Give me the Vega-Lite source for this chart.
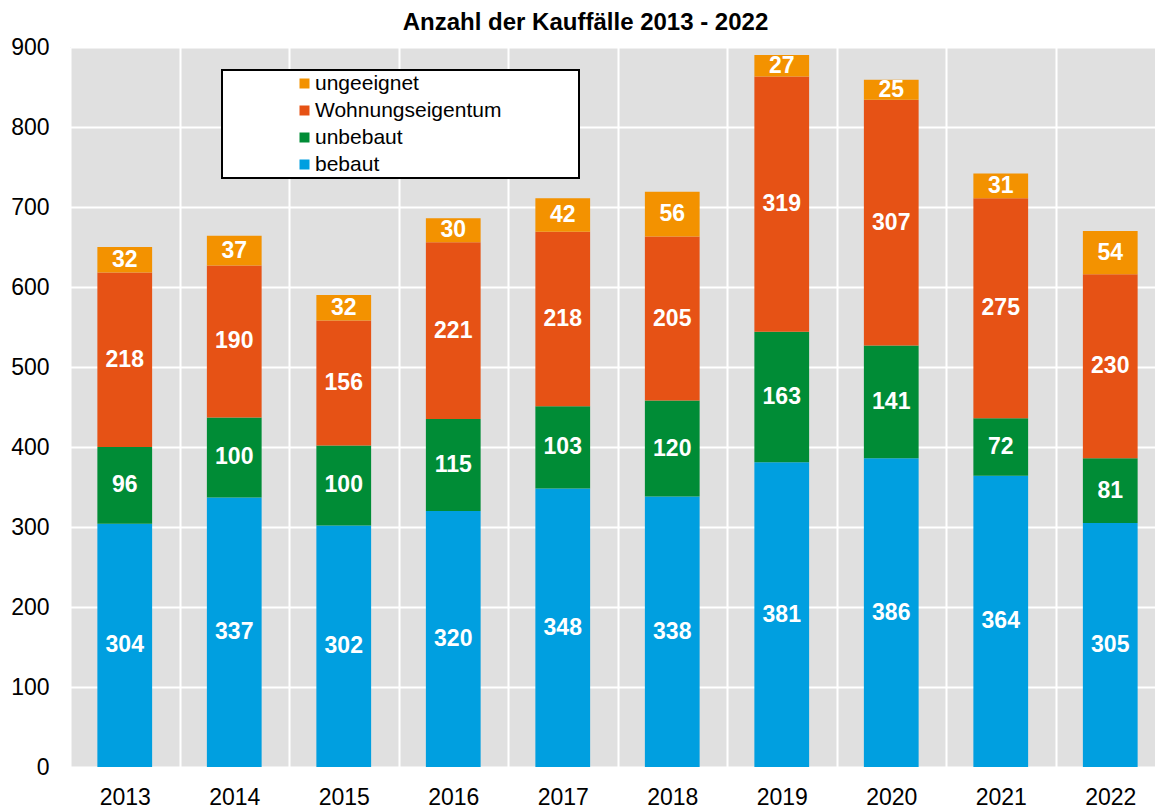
{
  "$schema": "https://vega.github.io/schema/vega-lite/v6.json",
  "width": 1095,
  "height": 720,
  "padding": {"left": 10, "top": 11, "right": 0, "bottom": 0},
  "background": "white",
  "title": {
    "text": "Anzahl der Kauffälle 2013 - 2022",
    "font": "Liberation Sans",
    "fontSize": 24,
    "fontWeight": "bold",
    "color": "black",
    "frame": "group",
    "anchor": "middle",
    "dx": -32,
    "offset": 1
  },
  "config": {
    "view": {"fill": "#e0e0e0", "stroke": null},
    "font": "Liberation Sans",
    "legend": {"strokeWidth": 2}
  },
  "data": {
    "values": [
      {"year": "2013", "cat": "bebaut", "rank": 1, "value": 304},
      {"year": "2013", "cat": "unbebaut", "rank": 2, "value": 96},
      {"year": "2013", "cat": "Wohnungseigentum", "rank": 3, "value": 218},
      {"year": "2013", "cat": "ungeeignet", "rank": 4, "value": 32},
      {"year": "2014", "cat": "bebaut", "rank": 1, "value": 337},
      {"year": "2014", "cat": "unbebaut", "rank": 2, "value": 100},
      {"year": "2014", "cat": "Wohnungseigentum", "rank": 3, "value": 190},
      {"year": "2014", "cat": "ungeeignet", "rank": 4, "value": 37},
      {"year": "2015", "cat": "bebaut", "rank": 1, "value": 302},
      {"year": "2015", "cat": "unbebaut", "rank": 2, "value": 100},
      {"year": "2015", "cat": "Wohnungseigentum", "rank": 3, "value": 156},
      {"year": "2015", "cat": "ungeeignet", "rank": 4, "value": 32},
      {"year": "2016", "cat": "bebaut", "rank": 1, "value": 320},
      {"year": "2016", "cat": "unbebaut", "rank": 2, "value": 115},
      {"year": "2016", "cat": "Wohnungseigentum", "rank": 3, "value": 221},
      {"year": "2016", "cat": "ungeeignet", "rank": 4, "value": 30},
      {"year": "2017", "cat": "bebaut", "rank": 1, "value": 348},
      {"year": "2017", "cat": "unbebaut", "rank": 2, "value": 103},
      {"year": "2017", "cat": "Wohnungseigentum", "rank": 3, "value": 218},
      {"year": "2017", "cat": "ungeeignet", "rank": 4, "value": 42},
      {"year": "2018", "cat": "bebaut", "rank": 1, "value": 338},
      {"year": "2018", "cat": "unbebaut", "rank": 2, "value": 120},
      {"year": "2018", "cat": "Wohnungseigentum", "rank": 3, "value": 205},
      {"year": "2018", "cat": "ungeeignet", "rank": 4, "value": 56},
      {"year": "2019", "cat": "bebaut", "rank": 1, "value": 381},
      {"year": "2019", "cat": "unbebaut", "rank": 2, "value": 163},
      {"year": "2019", "cat": "Wohnungseigentum", "rank": 3, "value": 319},
      {"year": "2019", "cat": "ungeeignet", "rank": 4, "value": 27},
      {"year": "2020", "cat": "bebaut", "rank": 1, "value": 386},
      {"year": "2020", "cat": "unbebaut", "rank": 2, "value": 141},
      {"year": "2020", "cat": "Wohnungseigentum", "rank": 3, "value": 307},
      {"year": "2020", "cat": "ungeeignet", "rank": 4, "value": 25},
      {"year": "2021", "cat": "bebaut", "rank": 1, "value": 364},
      {"year": "2021", "cat": "unbebaut", "rank": 2, "value": 72},
      {"year": "2021", "cat": "Wohnungseigentum", "rank": 3, "value": 275},
      {"year": "2021", "cat": "ungeeignet", "rank": 4, "value": 31},
      {"year": "2022", "cat": "bebaut", "rank": 1, "value": 305},
      {"year": "2022", "cat": "unbebaut", "rank": 2, "value": 81},
      {"year": "2022", "cat": "Wohnungseigentum", "rank": 3, "value": 230},
      {"year": "2022", "cat": "ungeeignet", "rank": 4, "value": 54}
    ]
  },
  "transform": [
    {"stack": "value", "groupby": ["year"], "sort": [{"field": "rank", "order": "ascending"}], "as": ["v0", "v1"]},
    {"calculate": "(datum.v0 + datum.v1) / 2", "as": "vmid"}
  ],
  "encoding": {
    "x": {
      "field": "year",
      "type": "nominal",
      "title": null,
      "scale": {"paddingInner": 0, "paddingOuter": 0},
      "axis": {
        "labelAngle": 0,
        "labelFontSize": 23,
        "labelColor": "black",
        "labelPadding": 19,
        "domain": false,
        "ticks": false,
        "grid": true,
        "gridColor": "white",
        "gridWidth": 2,
        "gridOpacity": 1,
        "tickBand": "extent"
      }
    }
  },
  "layer": [
    {
      "mark": {"type": "bar", "width": {"band": 0.5}},
      "encoding": {
        "y": {
          "field": "v0",
          "type": "quantitative",
          "title": null,
          "scale": {"domain": [0, 900], "nice": false},
          "axis": {
            "values": [0, 100, 200, 300, 400, 500, 600, 700, 800, 900],
            "labelFontSize": 23,
            "labelColor": "black",
            "labelPadding": 21,
            "domain": false,
            "ticks": false,
            "grid": true,
            "gridColor": "white",
            "gridWidth": 2,
            "gridOpacity": 1
          }
        },
        "y2": {"field": "v1"},
        "color": {
          "field": "cat",
          "type": "nominal",
          "scale": {
            "domain": ["ungeeignet", "Wohnungseigentum", "unbebaut", "bebaut"],
            "range": ["#f39200", "#e65215", "#008c36", "#009fe0"]
          },
          "legend": {
            "title": "\u2800\u2800\u2800\u2800\u2800",
            "titleOrient": "right",
            "titleFontSize": 21,
            "titleFontWeight": "normal",
            "titlePadding": 0,
            "orient": "none",
            "legendX": 152,
            "legendY": 23,
            "fillColor": "white",
            "strokeColor": "black",
            "padding": 3,
            "symbolType": "square",
            "symbolSize": 100,
            "symbolStrokeWidth": 0,
            "symbolOpacity": 1,
            "symbolOffset": 69,
            "labelOffset": 0,
            "labelFontSize": 21,
            "labelColor": "black",
            "labelLimit": 500,
            "rowPadding": 5
          }
        }
      }
    },
    {
      "mark": {"type": "text", "color": "white", "fontSize": 23, "fontWeight": "bold", "baseline": "middle", "align": "center"},
      "encoding": {
        "y": {"field": "vmid", "type": "quantitative"},
        "text": {"field": "value", "type": "quantitative"}
      }
    }
  ]
}
